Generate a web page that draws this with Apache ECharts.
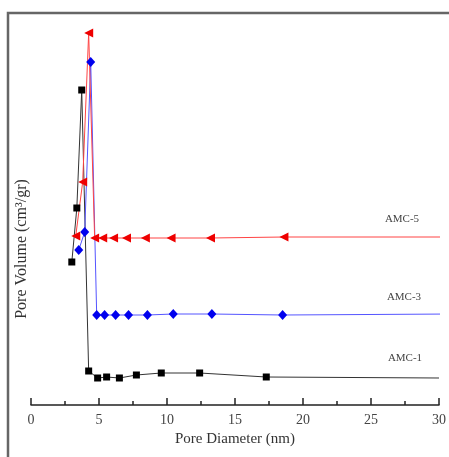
<!DOCTYPE html>
<html>
<head>
<meta charset="utf-8">
<script src="https://cdn.jsdelivr.net/npm/echarts@6/dist/echarts.min.js"></script>
<style>
html, body { margin: 0; padding: 0; background: #fff; }
#main { width: 449px; height: 457px; }
</style>
</head>
<body>
<div id="main"></div>
<script>
// pore diameter (nm) and pore volume (arbitrary units)
var amc1X = [3.0, 3.37, 3.73, 4.24, 4.9, 5.56, 6.5, 7.75, 9.58, 12.4, 17.3, 30.0];
var amc1Y = [0.143, 0.197, 0.315, 0.034, 0.027, 0.028, 0.027, 0.030, 0.032, 0.032, 0.028, 0.027];
var amc3X = [3.51, 3.95, 4.39, 4.83, 5.41, 6.22, 7.17, 8.56, 10.46, 13.3, 18.5, 31.0];
var amc3Y = [0.155, 0.173, 0.343, 0.090, 0.090, 0.090, 0.090, 0.090, 0.091, 0.091, 0.090, 0.091];
var amc5X = [3.29, 3.8, 4.24, 4.68, 5.27, 6.07, 7.02, 8.41, 10.3, 13.2, 18.6, 31.0];
var amc5Y = [0.169, 0.223, 0.372, 0.167, 0.167, 0.167, 0.167, 0.167, 0.167, 0.167, 0.168, 0.168];

var serif = '"Liberation Serif", "DejaVu Serif", serif';

// last point of each curve only carries the line to the edge, no marker
function pairs(xs, ys) {
    return xs.map(function (x, i) {
        var d = { value: [x, ys[i]] };
        if (i === xs.length - 1) d.symbol = 'none';
        return d;
    });
}

var myChart = echarts.init(document.getElementById('main'));
myChart.setOption({
    backgroundColor: '#fff',
    animation: false,
    grid: { left: 31, right: 8, top: 13, bottom: 52 },
    xAxis: {
        type: 'value',
        min: 0,
        max: 30,
        interval: 5,
        name: 'Pore Diameter (nm)',
        nameLocation: 'middle',
        nameGap: 26,
        nameTextStyle: { fontFamily: serif, fontSize: 15, color: '#333' },
        axisLine: { lineStyle: { color: '#222', width: 1.5 } },
        axisTick: { inside: true, length: 7, lineStyle: { color: '#222', width: 1.5 } },
        minorTick: { show: true, splitNumber: 2, length: 4, lineStyle: { color: '#222', width: 1.5 } },
        axisLabel: { fontFamily: serif, fontSize: 14, color: '#444', margin: 8 },
        splitLine: { show: false }
    },
    yAxis: {
        type: 'value',
        min: 0,
        max: 0.392,
        axisLine: { show: false },
        axisTick: { show: false },
        axisLabel: { show: false },
        splitLine: { show: false }
    },
    graphic: [
        {
            type: 'rect',
            shape: { x: 8, y: 13, width: 460, height: 470 },
            style: { fill: 'none', stroke: '#666', lineWidth: 2.5 },
            silent: true
        },
        {
            type: 'text',
            x: 22, y: 249,
            rotation: Math.PI / 2,
            style: {
                text: 'Pore Volume (cm³/gr)',
                font: '16px ' + serif,
                fill: '#333',
                align: 'center',
                verticalAlign: 'middle'
            }
        },
        { type: 'text', x: 402, y: 219, style: { text: 'AMC-5', font: '11px ' + serif, fill: '#444', align: 'center', verticalAlign: 'middle' } },
        { type: 'text', x: 404, y: 297, style: { text: 'AMC-3', font: '11px ' + serif, fill: '#444', align: 'center', verticalAlign: 'middle' } },
        { type: 'text', x: 405, y: 358, style: { text: 'AMC-1', font: '11px ' + serif, fill: '#444', align: 'center', verticalAlign: 'middle' } }
    ],
    series: [
        {
            name: 'AMC-1',
            type: 'line',
            clip: false,
            data: pairs(amc1X, amc1Y),
            symbol: 'rect',
            symbolSize: 7,
            itemStyle: { color: '#000' },
            lineStyle: { color: '#333', width: 1 }
        },
        {
            name: 'AMC-3',
            type: 'line',
            clip: false,
            data: pairs(amc3X, amc3Y),
            symbol: 'diamond',
            symbolSize: [9, 10],
            itemStyle: { color: '#0000ee' },
            lineStyle: { color: '#5555ff', width: 1 }
        },
        {
            name: 'AMC-5',
            type: 'line',
            clip: false,
            data: pairs(amc5X, amc5Y),
            symbol: 'triangle',
            symbolRotate: 90,
            symbolSize: 9,
            itemStyle: { color: '#ee0000' },
            lineStyle: { color: '#ff4444', width: 1 }
        }
    ]
});
</script>
</body>
</html>
